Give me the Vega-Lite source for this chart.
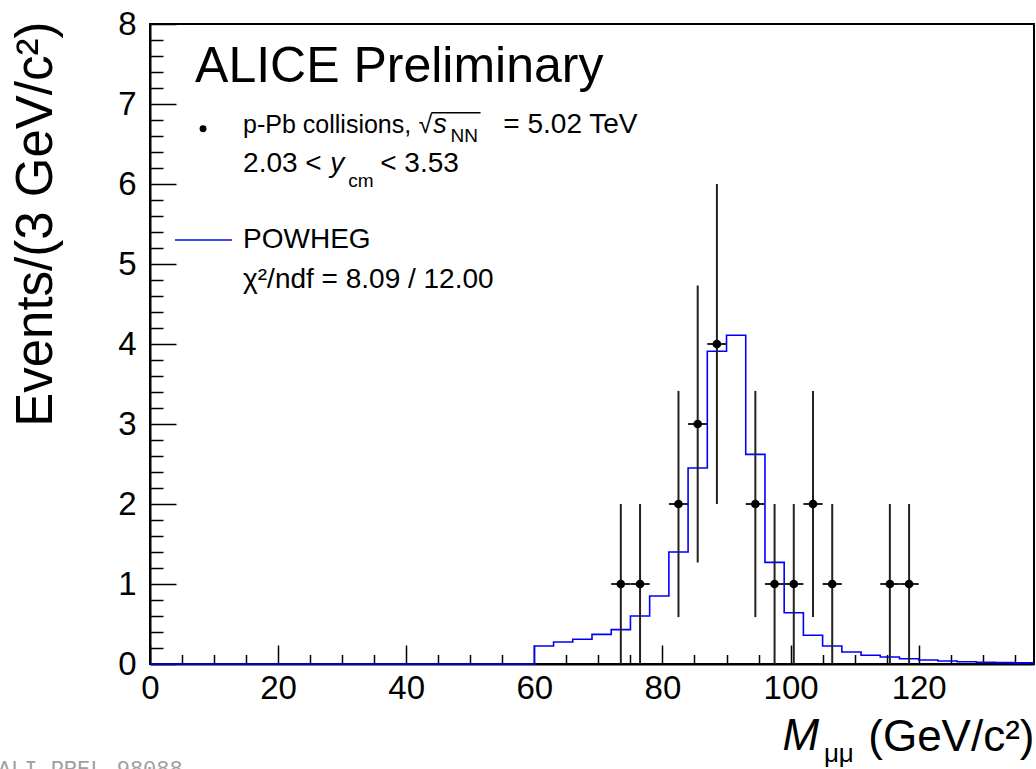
{
  "$schema": "https://vega.github.io/schema/vega-lite/v6.json",
  "width": 884,
  "height": 640,
  "autosize": {"type": "none"},
  "padding": {"left": 150, "top": 24, "right": 2, "bottom": 105},
  "background": "white",
  "config": {
    "font": "Liberation Sans",
    "view": {"stroke": "black", "strokeWidth": 2},
    "axis": {
      "grid": false,
      "domainColor": "black",
      "domainWidth": 2,
      "tickColor": "black",
      "tickWidth": 1.5,
      "labelColor": "black",
      "labelFont": "Liberation Sans",
      "labelFontSize": 33,
      "labelFlush": false,
      "labelOverlap": false,
      "titleFont": "Liberation Sans",
      "titleFontWeight": "normal",
      "titleColor": "black"
    },
    "text": {"color": "black", "font": "Liberation Sans"}
  },
  "resolve": {"axis": {"x": "independent", "y": "independent"}},
  "layer": [
    {
      "data": {"values": [
        {"edge": 0, "powheg": 0},
        {"edge": 60, "powheg": 0.225},
        {"edge": 63, "powheg": 0.275},
        {"edge": 66, "powheg": 0.31},
        {"edge": 69, "powheg": 0.37},
        {"edge": 72, "powheg": 0.43},
        {"edge": 75, "powheg": 0.6},
        {"edge": 78, "powheg": 0.85},
        {"edge": 81, "powheg": 1.4},
        {"edge": 84, "powheg": 2.45},
        {"edge": 87, "powheg": 3.91},
        {"edge": 90, "powheg": 4.11},
        {"edge": 93, "powheg": 2.62},
        {"edge": 96, "powheg": 1.27},
        {"edge": 99, "powheg": 0.64},
        {"edge": 102, "powheg": 0.36},
        {"edge": 105, "powheg": 0.225},
        {"edge": 108, "powheg": 0.15},
        {"edge": 111, "powheg": 0.11},
        {"edge": 114, "powheg": 0.088},
        {"edge": 117, "powheg": 0.066},
        {"edge": 120, "powheg": 0.05},
        {"edge": 123, "powheg": 0.038},
        {"edge": 126, "powheg": 0.028},
        {"edge": 129, "powheg": 0.022},
        {"edge": 132, "powheg": 0.017},
        {"edge": 135, "powheg": 0.014},
        {"edge": 138, "powheg": 0.014}
      ]},
      "mark": {"type": "line", "interpolate": "step-after", "color": "#0000ff", "strokeWidth": 1.6},
      "encoding": {
        "x": {
          "field": "edge", "type": "quantitative",
          "scale": {"domain": [0, 138], "nice": false, "zero": false},
          "axis": {
            "orient": "bottom",
            "values": [0, 20, 40, 60, 80, 100, 120],
            "tickSize": -19,
            "labelPadding": 27,
            "title": "(GeV/c²)",
            "titleFontSize": 44,
            "titleAnchor": "end",
            "titleAlign": "right",
            "titleBaseline": "alphabetic",
            "titleX": 884,
            "titleY": 86
          }
        },
        "y": {
          "field": "powheg", "type": "quantitative",
          "scale": {"domain": [0, 8], "nice": false},
          "axis": {
            "orient": "left",
            "values": [0, 1, 2, 3, 4, 5, 6, 7, 8],
            "tickSize": -26,
            "labelPadding": 40,
            "title": "Events/(3 GeV/c²)",
            "titleFontSize": 51,
            "titleAnchor": "end",
            "titleAlign": "right",
            "titleAngle": 270,
            "titleBaseline": "alphabetic",
            "titleX": -99,
            "titleY": -3
          }
        }
      }
    },
    {
      "data": {"values": [
        {"m": 73.5, "n": 1, "lo": 0, "hi": 2, "xlo": 72, "xhi": 75},
        {"m": 76.5, "n": 1, "lo": 0, "hi": 2, "xlo": 75, "xhi": 78},
        {"m": 82.5, "n": 2, "lo": 0.586, "hi": 3.414, "xlo": 81, "xhi": 84},
        {"m": 85.5, "n": 3, "lo": 1.268, "hi": 4.732, "xlo": 84, "xhi": 87},
        {"m": 88.5, "n": 4, "lo": 2, "hi": 6, "xlo": 87, "xhi": 90},
        {"m": 94.5, "n": 2, "lo": 0.586, "hi": 3.414, "xlo": 93, "xhi": 96},
        {"m": 97.5, "n": 1, "lo": 0, "hi": 2, "xlo": 96, "xhi": 99},
        {"m": 100.5, "n": 1, "lo": 0, "hi": 2, "xlo": 99, "xhi": 102},
        {"m": 103.5, "n": 2, "lo": 0.586, "hi": 3.414, "xlo": 102, "xhi": 105},
        {"m": 106.5, "n": 1, "lo": 0, "hi": 2, "xlo": 105, "xhi": 108},
        {"m": 115.5, "n": 1, "lo": 0, "hi": 2, "xlo": 114, "xhi": 117},
        {"m": 118.5, "n": 1, "lo": 0, "hi": 2, "xlo": 117, "xhi": 120}
      ]},
      "mark": {"type": "rule", "color": "#222222", "strokeWidth": 2},
      "encoding": {
        "x": {
          "field": "m", "type": "quantitative",
          "axis": {
            "orient": "bottom",
            "values": [5,10,15,25,30,35,45,50,55,65,70,75,85,90,95,105,110,115,125,130,135],
            "tickSize": -9.5,
            "labels": false,
            "domain": false,
            "title": null
          }
        },
        "y": {
          "field": "lo", "type": "quantitative",
          "axis": {
            "orient": "left",
            "values": [0.2,0.4,0.6,0.8,1.2,1.4,1.6,1.8,2.2,2.4,2.6,2.8,3.2,3.4,3.6,3.8,4.2,4.4,4.6,4.8,5.2,5.4,5.6,5.8,6.2,6.4,6.6,6.8,7.2,7.4,7.6,7.8],
            "tickSize": -13,
            "labels": false,
            "domain": false,
            "title": null
          }
        },
        "y2": {"field": "hi"}
      }
    },
    {
      "data": {"values": [
        {"m": 73.5, "n": 1, "xlo": 72, "xhi": 75},
        {"m": 76.5, "n": 1, "xlo": 75, "xhi": 78},
        {"m": 82.5, "n": 2, "xlo": 81, "xhi": 84},
        {"m": 85.5, "n": 3, "xlo": 84, "xhi": 87},
        {"m": 88.5, "n": 4, "xlo": 87, "xhi": 90},
        {"m": 94.5, "n": 2, "xlo": 93, "xhi": 96},
        {"m": 97.5, "n": 1, "xlo": 96, "xhi": 99},
        {"m": 100.5, "n": 1, "xlo": 99, "xhi": 102},
        {"m": 103.5, "n": 2, "xlo": 102, "xhi": 105},
        {"m": 106.5, "n": 1, "xlo": 105, "xhi": 108},
        {"m": 115.5, "n": 1, "xlo": 114, "xhi": 117},
        {"m": 118.5, "n": 1, "xlo": 117, "xhi": 120}
      ]},
      "layer": [
        {
          "mark": {"type": "rule", "color": "#222222", "strokeWidth": 2},
          "encoding": {
            "x": {"field": "xlo", "type": "quantitative", "axis": null},
            "x2": {"field": "xhi"},
            "y": {"field": "n", "type": "quantitative", "axis": null}
          }
        },
        {
          "mark": {"type": "point", "filled": true, "color": "black", "size": 75, "opacity": 1},
          "encoding": {
            "x": {"field": "m", "type": "quantitative", "axis": null},
            "y": {"field": "n", "type": "quantitative", "axis": null}
          }
        }
      ]
    },
    {
      "data": {"values": [{"x": 7.03, "y": 7.275, "t": "ALICE Preliminary"}]},
      "mark": {"type": "text", "align": "left", "baseline": "alphabetic", "fontSize": 50},
      "encoding": {
        "x": {"field": "x", "type": "quantitative", "axis": null},
        "y": {"field": "y", "type": "quantitative", "axis": null},
        "text": {"field": "t"}
      }
    },
    {
      "data": {"values": [
        {"x": 14.53, "y": 6.6375, "t": "p-Pb collisions,"},
        {"x": 41.9, "y": 6.6375, "t": "√"}
      ]},
      "mark": {"type": "text", "align": "left", "baseline": "alphabetic", "fontSize": 25},
      "encoding": {
        "x": {"field": "x", "type": "quantitative", "axis": null},
        "y": {"field": "y", "type": "quantitative", "axis": null},
        "text": {"field": "t"}
      }
    },
    {
      "data": {"values": [
        {"x": 44.2, "y": 6.6375, "t": "s"}
      ]},
      "mark": {"type": "text", "align": "left", "baseline": "alphabetic", "fontSize": 27, "fontStyle": "italic"},
      "encoding": {
        "x": {"field": "x", "type": "quantitative", "axis": null},
        "y": {"field": "y", "type": "quantitative", "axis": null},
        "text": {"field": "t"}
      }
    },
    {
      "data": {"values": [
        {"x": 55.16, "y": 6.6375, "t": "= 5.02 TeV"},
        {"x": 14.53, "y": 6.15, "t": "2.03 <"},
        {"x": 35.94, "y": 6.15, "t": "< 3.53"},
        {"x": 14.53, "y": 5.2, "t": "POWHEG"},
        {"x": 14.53, "y": 4.7, "t": "χ²/ndf = 8.09 / 12.00"}
      ]},
      "mark": {"type": "text", "align": "left", "baseline": "alphabetic", "fontSize": 28},
      "encoding": {
        "x": {"field": "x", "type": "quantitative", "axis": null},
        "y": {"field": "y", "type": "quantitative", "axis": null},
        "text": {"field": "t"}
      }
    },
    {
      "data": {"values": [
        {"x": 28.125, "y": 6.15, "t": "y"}
      ]},
      "mark": {"type": "text", "align": "left", "baseline": "alphabetic", "fontSize": 28, "fontStyle": "italic"},
      "encoding": {
        "x": {"field": "x", "type": "quantitative", "axis": null},
        "y": {"field": "y", "type": "quantitative", "axis": null},
        "text": {"field": "t"}
      }
    },
    {
      "data": {"values": [
        {"x": 46.9, "y": 6.525, "t": "NN"},
        {"x": 30.94, "y": 5.9625, "t": "cm"}
      ]},
      "mark": {"type": "text", "align": "left", "baseline": "alphabetic", "fontSize": 19},
      "encoding": {
        "x": {"field": "x", "type": "quantitative", "axis": null},
        "y": {"field": "y", "type": "quantitative", "axis": null},
        "text": {"field": "t"}
      }
    },
    {
      "data": {"values": [{"x1": 43.9, "x2": 51.6, "y": 6.89}]},
      "mark": {"type": "rule", "color": "black", "strokeWidth": 1.5},
      "encoding": {
        "x": {"field": "x1", "type": "quantitative", "axis": null},
        "x2": {"field": "x2"},
        "y": {"field": "y", "type": "quantitative", "axis": null}
      }
    },
    {
      "data": {"values": [{"x": 8.28, "y": 6.69}]},
      "mark": {"type": "point", "filled": true, "color": "black", "size": 48, "opacity": 1},
      "encoding": {
        "x": {"field": "x", "type": "quantitative", "axis": null},
        "y": {"field": "y", "type": "quantitative", "axis": null}
      }
    },
    {
      "data": {"values": [{"x": 3.9, "x2": 12.8, "y": 5.3}]},
      "mark": {"type": "rule", "color": "#0000ff", "strokeWidth": 1.6},
      "encoding": {
        "x": {"field": "x", "type": "quantitative", "axis": null},
        "x2": {"field": "x2"},
        "y": {"field": "y", "type": "quantitative", "axis": null}
      }
    },
    {
      "data": {"values": [{"x": 98.75, "y": -1.075, "t": "M"}]},
      "mark": {"type": "text", "align": "left", "baseline": "alphabetic", "fontSize": 44, "fontStyle": "italic"},
      "encoding": {
        "x": {"field": "x", "type": "quantitative", "axis": null},
        "y": {"field": "y", "type": "quantitative", "axis": null},
        "text": {"field": "t"}
      }
    },
    {
      "data": {"values": [{"x": 105.2, "y": -1.225, "t": "μμ"}]},
      "mark": {"type": "text", "align": "left", "baseline": "alphabetic", "fontSize": 26},
      "encoding": {
        "x": {"field": "x", "type": "quantitative", "axis": null},
        "y": {"field": "y", "type": "quantitative", "axis": null},
        "text": {"field": "t"}
      }
    },
    {
      "data": {"values": [{"x": -23.75, "y": -1.406, "t": "ALI-PREL-98088"}]},
      "mark": {"type": "text", "align": "left", "baseline": "alphabetic", "fontSize": 22, "font": "Liberation Mono", "color": "#a0a0a0"},
      "encoding": {
        "x": {"field": "x", "type": "quantitative", "axis": null},
        "y": {"field": "y", "type": "quantitative", "axis": null},
        "text": {"field": "t"}
      }
    }
  ]
}
